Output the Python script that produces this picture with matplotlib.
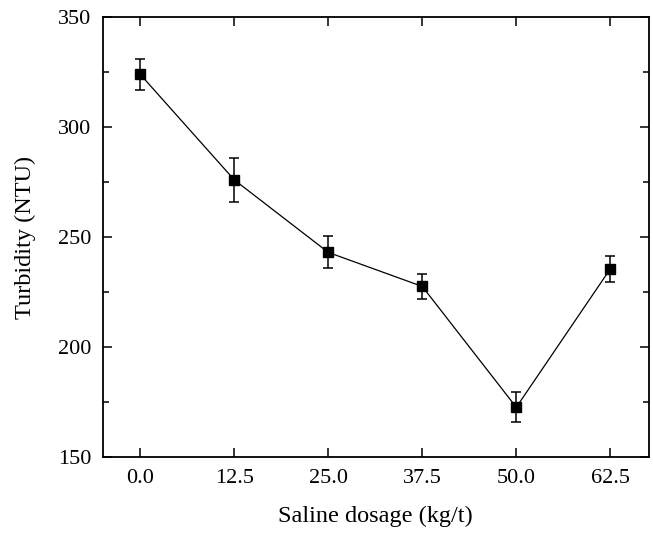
import numpy as np
import matplotlib
matplotlib.use('Agg')
import matplotlib.pyplot as plt
from matplotlib.ticker import MultipleLocator

plt.rcParams['font.family'] = ['Liberation Serif', 'DejaVu Serif']

# datos
dosis = [0.0, 12.5, 25.0, 37.5, 50.0, 62.5]      # Saline dosage (kg/t)
turbidez = [324, 276, 243, 227.5, 172.5, 235.5]  # Turbidity (NTU)
error = [7.2, 10, 7.3, 5.5, 6.8, 6]              # barras de error
x_ticks = [0.0, 12.5, 25.0, 37.5, 50.0, 62.5]
y_ticks = [150, 200, 250, 300, 350]

fig = plt.figure(figsize=(6.53, 5.33), dpi=100)
ax = fig.add_axes([0.1573, 0.1431, 0.8366, 0.8244])

ax.errorbar(dosis, turbidez, yerr=error, color='k', lw=0.9, marker='s',
            markersize=7, elinewidth=1.1, capsize=3.5, capthick=1.1)

ax.set_xlim(-5.0, 67.65)
ax.set_ylim(150, 350)
ax.set_xticks(x_ticks)
ax.set_xticklabels(['{:.1f}'.format(v) for v in x_ticks])
ax.set_yticks(y_ticks)
ax.yaxis.set_minor_locator(MultipleLocator(25))

ax.tick_params(which='both', direction='in', top=True, right=True,
               labelsize=16, width=1.1)
ax.tick_params(which='major', length=6.5)
ax.tick_params(axis='y', which='major', pad=8)
ax.tick_params(axis='x', which='major', pad=9)
ax.tick_params(which='minor', length=4)
ax.tick_params(axis='x', which='minor', top=False, bottom=False)
for s in ax.spines.values():
    s.set_linewidth(1.3)

ax.set_xlabel('Saline dosage (kg/t)', fontsize=17.5, labelpad=13)
ax.set_ylabel('Turbidity (NTU)', fontsize=17.5, labelpad=16)

plt.savefig('out.png', dpi=100)
